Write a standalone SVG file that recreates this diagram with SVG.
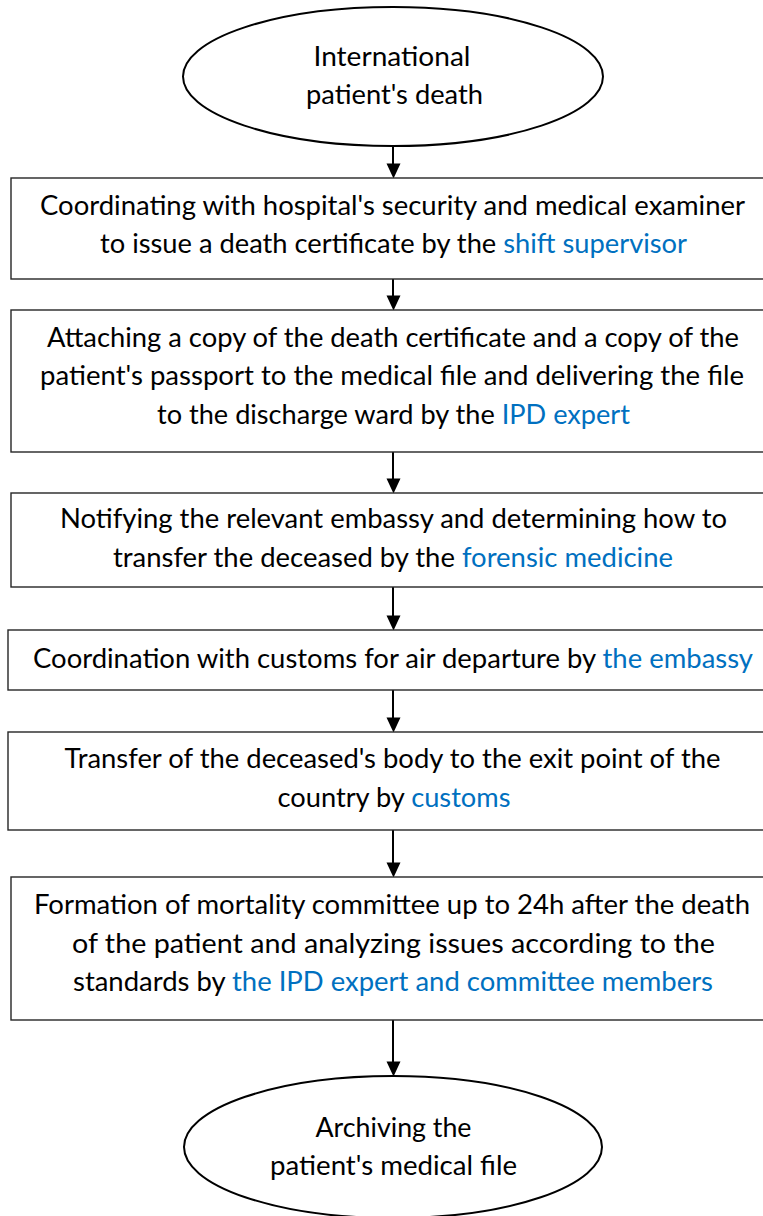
<svg xmlns="http://www.w3.org/2000/svg" width="763" height="1216" viewBox="0 0 763 1216">
<style>
.t{font-family:Lato,"Open Sans","Liberation Sans",sans-serif;font-size:27px;fill:#000;text-anchor:middle}
.b{fill:#0070C0}
.box{fill:#fff;stroke:#262626;stroke-width:1.4}
.ell{fill:#fff;stroke:#000;stroke-width:2}
.con{stroke:#000;stroke-width:2;fill:none;marker-end:url(#ah)}
</style>
<defs>
<marker id="ah" markerUnits="userSpaceOnUse" markerWidth="14" markerHeight="15" refX="7" refY="8" orient="auto" viewBox="0 0 14 15" overflow="visible">
<path d="M0,0 L14,0 L7,15 Z" fill="#000" transform="rotate(-90 7 7.5) translate(0 0)"/>
</marker>
</defs>
<rect width="763" height="1216" fill="#fff"/>
<g id="connectors">
<path class="con" d="M393,146 V171"/>
<path class="con" d="M393,279 V303"/>
<path class="con" d="M393,452 V486"/>
<path class="con" d="M393,587 V623"/>
<path class="con" d="M393,690 V725"/>
<path class="con" d="M393,830 V870"/>
<path class="con" d="M393,1020 V1069"/>
</g>
<g id="start">
<ellipse class="ell" cx="393" cy="76.5" rx="210" ry="69.5"/>
<text class="t" x="392" y="66" textLength="157" lengthAdjust="spacingAndGlyphs">International</text>
<text class="t" x="394.5" y="103.5" textLength="177" lengthAdjust="spacingAndGlyphs">patient's death</text>
</g>
<g id="step1">
<rect class="box" x="11" y="178" width="770" height="101"/>
<text class="t" x="392.5" y="215" textLength="705" lengthAdjust="spacingAndGlyphs">Coordinating with hospital's security and medical examiner</text>
<text class="t" x="393.5" y="253" textLength="587" lengthAdjust="spacingAndGlyphs">to issue a death certificate by the <tspan class="b">shift supervisor</tspan></text>
</g>
<g id="step2">
<rect class="box" x="11" y="310" width="770" height="142"/>
<text class="t" x="393" y="346.5" textLength="692" lengthAdjust="spacingAndGlyphs">Attaching a copy of the death certificate and a copy of the</text>
<text class="t" x="392" y="385" textLength="704" lengthAdjust="spacingAndGlyphs">patient's passport to the medical file and delivering the file</text>
<text class="t" x="393.5" y="423.5" textLength="473" lengthAdjust="spacingAndGlyphs">to the discharge ward by the <tspan class="b">IPD expert</tspan></text>
</g>
<g id="step3">
<rect class="box" x="11" y="493" width="770" height="94"/>
<text class="t" x="393.5" y="528" textLength="667" lengthAdjust="spacingAndGlyphs">Notifying the relevant embassy and determining how to</text>
<text class="t" x="393" y="566.5" textLength="560" lengthAdjust="spacingAndGlyphs">transfer the deceased by the <tspan class="b">forensic medicine</tspan></text>
</g>
<g id="step4">
<rect class="box" x="8" y="630" width="770" height="60"/>
<text class="t" x="393" y="668" textLength="720" lengthAdjust="spacingAndGlyphs">Coordination with customs for air departure by <tspan class="b">the embassy</tspan></text>
</g>
<g id="step5">
<rect class="box" x="8" y="732" width="770" height="98"/>
<text class="t" x="392.5" y="768" textLength="656" lengthAdjust="spacingAndGlyphs">Transfer of the deceased's body to the exit point of the</text>
<text class="t" x="394" y="806.5" textLength="233" lengthAdjust="spacingAndGlyphs">country by <tspan class="b">customs</tspan></text>
</g>
<g id="step6">
<rect class="box" x="11" y="877" width="770" height="143"/>
<text class="t" x="392" y="914" textLength="716" lengthAdjust="spacingAndGlyphs">Formation of mortality committee up to 24h after the death</text>
<text class="t" x="393.5" y="952.5" textLength="643" lengthAdjust="spacingAndGlyphs">of the patient and analyzing issues according to the</text>
<text class="t" x="393" y="991" textLength="640" lengthAdjust="spacingAndGlyphs">standards by <tspan class="b">the IPD expert and committee members</tspan></text>
</g>
<g id="end">
<ellipse class="ell" cx="393" cy="1147" rx="209" ry="71"/>
<text class="t" x="393.5" y="1137" textLength="156" lengthAdjust="spacingAndGlyphs">Archiving the</text>
<text class="t" x="393.5" y="1175" textLength="247" lengthAdjust="spacingAndGlyphs">patient's medical file</text>
</g>
</svg>
